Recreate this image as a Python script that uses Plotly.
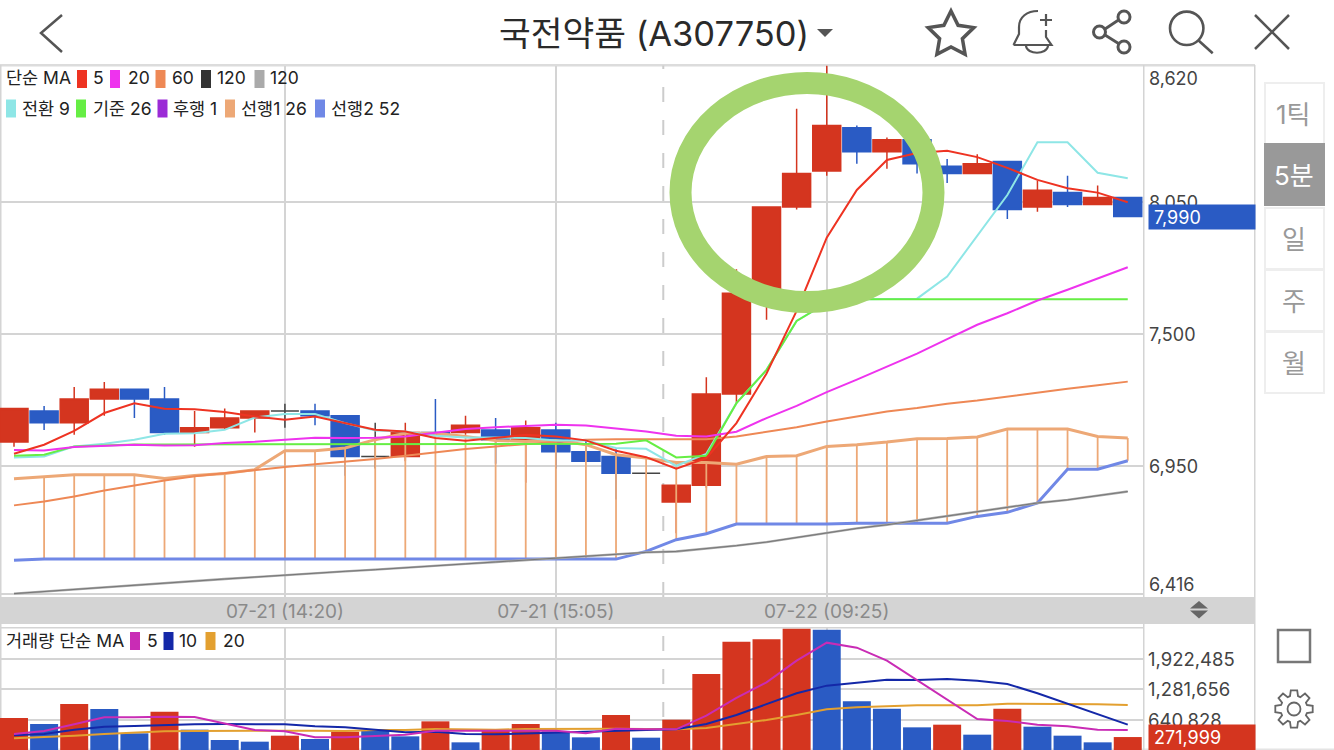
import math
import re
import plotly.graph_objects as go
from plotly.subplots import make_subplots

W, H = 1334, 750
FONT = "Inter, 'Noto Sans CJK KR', sans-serif"
RED = "#D4351F"
BLUE = "#2A5BC4"
DARK = "#444444"
ICON = "#555555"
GRID = "#D4D4D4"

# 5분봉 시세
idx = list(range(38))
open_ = [7050, 7180, 7130, 7230, 7270, 7230, 7090, 7110, 7150, 7180, 7180, 7160, 6990, 6990, 7090, 7090, 7100, 7060, 7100,
         7010, 6990, 6920, 6800, 6870, 7250, 7670, 8030, 8180, 8360, 8260, 8310, 8200, 8170, 8220, 8030, 8090, 8040, 8070]
close = [7190, 7130, 7230, 7270, 7230, 7090, 7110, 7150, 7180, 7180, 7160, 6990, 6990, 7090, 7080, 7120, 7060, 7110, 7010,
         6970, 6920, 6920, 6870, 7250, 7670, 8030, 8170, 8370, 8260, 8310, 8210, 8170, 8210, 8020, 8100, 8040, 8070, 7990]
high = [7190, 7200, 7280, 7300, 7270, 7280, 7180, 7190, 7180, 7210, 7210, 7160, 7130, 7130, 7230, 7160, 7150, 7140, 7130,
        7060, 7020, 6920, 6870, 7320, 7770, 8030, 8440, 8620, 8370, 8320, 8310, 8230, 8250, 8220, 8140, 8160, 8120, 8070]
low = [7030, 7100, 7080, 7160, 7150, 7080, 7030, 7100, 7090, 7110, 7120, 6910, 6940, 6970, 7080, 7080, 6960, 6880, 6940,
       6970, 6810, 6920, 6670, 6860, 7210, 7560, 8020, 8160, 8210, 8190, 8170, 8130, 8170, 7980, 8010, 8030, 8040, 7990]

# 이동평균
ma5 = [7001, 7039, 7097, 7171, 7212, 7189, 7187, 7175, 7157, 7143, 7157, 7129, 7101, 7094, 7067, 7055, 7067, 7080, 7073,
       7057, 7014, 6987, 6939, 6983, 7129, 7336, 7597, 7902, 8101, 8226, 8255, 8265, 8238, 8193, 8143, 8108, 8090, 8050]
ma20 = [7017, 7015, 7029, 7035, 7039, 7036, 7037, 7046, 7051, 7060, 7068, 7067, 7068, 7073, 7087, 7104, 7112, 7118, 7122,
        7119, 7105, 7094, 7076, 7073, 7093, 7150, 7201, 7258, 7310, 7365, 7419, 7479, 7539, 7587, 7640, 7685, 7733, 7779]
ma60 = [6786, 6802, 6823, 6848, 6869, 6890, 6907, 6921, 6935, 6946, 6958, 6967, 6979, 6993, 7008, 7021, 7032, 7042, 7050,
        7060, 7062, 7062, 7060, 7062, 7073, 7093, 7112, 7136, 7155, 7177, 7192, 7210, 7223, 7240, 7257, 7272, 7287, 7302]
ma120 = [6418, 6427, 6437, 6446, 6454, 6462, 6471, 6479, 6487, 6496, 6502, 6511, 6518, 6525, 6532, 6542, 6550, 6558, 6565,
         6573, 6580, 6590, 6594, 6605, 6618, 6633, 6652, 6672, 6690, 6705, 6723, 6743, 6759, 6777, 6796, 6809, 6827, 6844]

# 일목균형표
tenkan = [6986, 6990, 7032, 7043, 7060, 7085, 7087, 7101, 7152, 7167, 7167, 7129, 7098, 7094, 7076, 7069, 7069, 7067, 7057,
          7057, 7025, 7022, 6951, 7001, 7212, 7351, 7555, 7630, 7645, 7645, 7648, 7740, 7908, 8080, 8300, 8300, 8173, 8150]
kijun = [6993, 6997, 7032, 7037, 7040, 7040, 7040, 7040, 7040, 7040, 7040, 7040, 7040, 7040, 7043, 7043, 7043, 7043, 7043,
         7040, 7043, 7057, 6986, 6993, 7212, 7351, 7555, 7630, 7645, 7645, 7645, 7645, 7645, 7645, 7645, 7645, 7645, 7645]
senkou1 = [6897, 6907, 6914, 6914, 6914, 6898, 6911, 6919, 6935, 7014, 7014, 7025, 7060, 7087, 7087, 7073, 7057, 7052, 7057,
           7039, 6997, 6983, 6965, 6965, 6958, 6990, 6993, 7032, 7039, 7050, 7064, 7065, 7071, 7104, 7104, 7104, 7073, 7067]
senkou2 = [6557, 6562, 6562, 6562, 6562, 6562, 6562, 6562, 6562, 6562, 6562, 6562, 6562, 6562, 6562, 6562, 6562, 6562, 6562,
           6562, 6562, 6594, 6643, 6668, 6708, 6708, 6708, 6708, 6712, 6712, 6712, 6712, 6740, 6757, 6796, 6937, 6937, 6972]

# 거래량 (천주)
volume = [672, 546, 967, 861, 350, 805, 427, 210, 175, 301, 231, 385, 406, 287, 602, 161, 406, 546, 392,
          266, 735, 259, 637, 1597, 2276, 2325, 2549, 2528, 1023, 868, 476, 532, 322, 868, 490, 301, 161, 272]
volume_up = [1, 0, 1, 0, 0, 1, 0, 0, 0, 1, 0, 1, 0, 0, 1, 0, 1, 1, 0,
             0, 1, 0, 1, 1, 1, 1, 1, 0, 0, 0, 0, 1, 0, 1, 0, 0, 0, 1]
vol_ma5 = [336, 399, 539, 686, 686, 700, 693, 560, 420, 392, 266, 266, 301, 322, 406, 406, 399, 406, 406,
           350, 448, 434, 434, 721, 1093, 1422, 1877, 2255, 2150, 1877, 1471, 1051, 651, 609, 532, 497, 427, 420]
vol_ma10 = [308, 336, 427, 490, 504, 525, 539, 546, 539, 539, 497, 476, 427, 371, 385, 336, 329, 350, 371,
            378, 406, 420, 434, 546, 735, 967, 1191, 1352, 1422, 1478, 1471, 1492, 1457, 1387, 1191, 967, 756, 532]
vol_ma20 = [245, 266, 301, 336, 364, 392, 399, 406, 406, 406, 406, 399, 420, 420, 441, 427, 427, 441, 448,
            448, 448, 441, 434, 462, 546, 630, 735, 854, 896, 925, 939, 939, 939, 974, 974, 974, 960, 946]

# 축 라벨
price_ticks = [8620, 8050, 7500, 6950, 6416]
volume_ticks = [1922485, 1281656, 640828]
date_ticks = [9, 18, 27]
date_labels = ["07-21 (14:20)", "07-21 (15:05)", "07-22 (09:25)"]
session_break = 21.57
last_price = "7,990"
last_volume = "271,999"
title_text = "국전약품 (A307750)"
period_tabs = ["1틱", "5분", "일", "주", "월"]


def px(x):
    return x / W


def py(y):
    return 1 - y / H


def px_path(s):
    # "M x y L x y" 형태의 픽셀 좌표를 paper 좌표로 변환
    tokens = re.findall(r"[A-Za-z]|-?[\d.]+", s)
    out, is_x = [], True
    for t in tokens:
        if t.isalpha():
            out.append(t)
        else:
            out.append(str(px(float(t))) if is_x else str(py(float(t))))
            is_x = not is_x
    return " ".join(out)


fig = make_subplots(rows=2, cols=1, shared_xaxes=False)

# 구름대 세로선
stick_x, stick_y = [], []
for i, a, b in zip(idx[1:], senkou1[1:], senkou2[1:]):
    stick_x += [i, i, None]
    stick_y += [a, b, None]

sand = "#EDA876"
lines = [
    (stick_y, sand, 1.8),
    (senkou2, "#7088E6", 3),
    (senkou1, sand, 3),
    (ma120, "#AAAAAA", 2.4),
    (ma120, "#777777", 1),
    (ma60, "#EE8855", 2),
    (tenkan, "#8EE6E6", 2),
    (kijun, "#66EE44", 2),
    (ma20, "#EE33EE", 2),
    (ma5, "#EE3322", 2),
]
for ys, color, width in lines:
    xs = stick_x if ys is stick_y else idx
    fig.add_trace(go.Scatter(x=xs, y=ys, mode="lines", line=dict(color=color, width=width),
                             hoverinfo="skip", showlegend=False), row=1, col=1)

# 캔들 (보합은 검정)
doji = [o == c for o, c in zip(open_, close)]
keep = lambda vals, flag: [v if d == flag else None for v, d in zip(vals, doji)]
fig.add_trace(go.Candlestick(x=idx, open=keep(open_, False), high=keep(high, False), low=keep(low, False),
                             close=keep(close, False), whiskerwidth=0,
                             increasing=dict(line=dict(color=RED, width=1.5), fillcolor=RED),
                             decreasing=dict(line=dict(color=BLUE, width=1.5), fillcolor=BLUE),
                             showlegend=False, hoverinfo="skip"), row=1, col=1)
fig.add_trace(go.Candlestick(x=idx, open=keep(open_, True), high=keep(high, True), low=keep(low, True),
                             close=keep(close, True), whiskerwidth=0,
                             increasing=dict(line=dict(color="#444444", width=1.5), fillcolor="#444444"),
                             decreasing=dict(line=dict(color="#444444", width=1.5), fillcolor="#444444"),
                             showlegend=False, hoverinfo="skip"), row=1, col=1)

# 거래량
fig.add_trace(go.Bar(x=idx, y=[v * 1000 for v in volume], marker_color=[RED if u else BLUE for u in volume_up],
                     marker_line_width=0, showlegend=False, hoverinfo="skip"), row=2, col=1)
for ys, color in [(vol_ma20, "#E3A030"), (vol_ma10, "#1428A8"), (vol_ma5, "#C92CB5")]:
    fig.add_trace(go.Scatter(x=idx, y=[v * 1000 for v in ys], mode="lines", line=dict(color=color, width=2),
                             hoverinfo="skip", showlegend=False), row=2, col=1)

x_range = [-0.465, 37.54]
x_domain = [0, 1144 / W]
fig.update_layout(
    width=W, height=H, margin=dict(l=0, r=0, t=0, b=0),
    paper_bgcolor="white", plot_bgcolor="white", font=dict(family=FONT, color=DARK),
    showlegend=False, bargap=0.07, boxgap=0.07, boxgroupgap=0, boxmode="overlay", dragmode=False,
    xaxis=dict(domain=x_domain, range=x_range, tickvals=date_ticks, ticktext=date_labels, showgrid=True,
               gridcolor=GRID, gridwidth=1.5, zeroline=False, ticks="", rangeslider=dict(visible=False),
               ticklabelstandoff=1, tickfont=dict(size=19, color="#8A8A8A", family=FONT)),
    yaxis=dict(domain=[py(597), py(65.5)], range=[6404, 8620], tickvals=price_ticks, showticklabels=False,
               gridcolor=GRID, gridwidth=1.5, zeroline=False, side="right"),
    xaxis2=dict(domain=x_domain, range=x_range, tickvals=date_ticks, showticklabels=False, showgrid=True,
                gridcolor=GRID, gridwidth=1.5, zeroline=False, ticks=""),
    yaxis2=dict(domain=[0, py(628)], range=[0, 2563314], tickvals=volume_ticks, showticklabels=False,
                gridcolor=GRID, gridwidth=1.5, zeroline=False, side="right"),
)

shapes = []
annots = []


def rect(x0, y0, x1, y1, fill=None, line=None, width=0, layer="above"):
    shapes.append(dict(type="rect", xref="paper", yref="paper", x0=px(x0), x1=px(x1), y0=py(y0), y1=py(y1),
                       fillcolor=fill, line=dict(color=line, width=width), layer=layer))


def stroke(d, color=ICON, width=2.5, fill=None, layer="above"):
    shapes.append(dict(type="path", xref="paper", yref="paper", path=px_path(d), fillcolor=fill,
                       line=dict(color=color, width=width), layer=layer))


def circle(cx, cy, rx, ry=None, color=ICON, width=2.5):
    ry = rx if ry is None else ry
    shapes.append(dict(type="circle", xref="paper", yref="paper", x0=px(cx - rx), x1=px(cx + rx),
                       y0=py(cy - ry), y1=py(cy + ry), line=dict(color=color, width=width), layer="above"))


def text(x, y, s, size=17.5, color="#222222", anchor="left"):
    annots.append(dict(xref="paper", yref="paper", x=px(x), y=py(y), text=s, showarrow=False, xanchor=anchor,
                       yanchor="middle", font=dict(size=size, color=color, family=FONT)))


# 프레임과 구분선
rect(0, 597, 1255, 624, fill="#D4D4D4", layer="below")
rect(0, 64, 1255, 66.5, fill="#DCDCDC", layer="below")
rect(0, 748.5, 1334, 750, fill="#E4E4E4", layer="below")
for x0 in (0, 1143, 1254):
    rect(x0, 65, x0 + 1.5, 750, fill="#D4D4D4", layer="below")
rect(0, 627, 1144, 628.5, fill="#D4D4D4", layer="below")
for y0, y1 in [(65.5, 597), (628, 750)]:
    shapes.append(dict(type="line", xref="x", yref="paper", x0=session_break, x1=session_break, y0=py(y1), y1=py(y0),
                       line=dict(color="#CCCCCC", width=2, dash="15px,18px"), layer="below"))

# 눈금 라벨
for v in price_ticks:
    shift = {8620: -12.5, 6416: 10}.get(v, 0)
    annots.append(dict(xref="paper", yref="y", x=px(1146.5), y=v, yshift=shift, text=f"{v:,}", showarrow=False,
                       xanchor="left", yanchor="middle", font=dict(size=18, color=DARK, family=FONT)))
for v in volume_ticks:
    annots.append(dict(xref="paper", yref="y2", x=px(1146), y=v, text=f"{v:,}", showarrow=False, xanchor="left",
                       yanchor="middle", font=dict(size=18.5, color=DARK, family=FONT)))
annots.append(dict(xref="paper", yref="paper", x=px(1148), y=py(217), text="\u00a0" + last_price, showarrow=False,
                   xanchor="left", yanchor="middle", align="left", width=106, height=24, borderpad=0, bgcolor=BLUE,
                   font=dict(size=18, color="white", family=FONT)))
annots.append(dict(xref="paper", yref="paper", x=px(1148), y=py(737.5), text="\u00a0" + last_volume, showarrow=False,
                   xanchor="left", yanchor="middle", align="left", width=106, height=25, borderpad=0, bgcolor=RED,
                   font=dict(size=18, color="white", family=FONT)))

# 범례
legend_rows = [
    (78, 70, [(77, "#EE3322", 91, "5"), (110, "#EE33EE", 125.5, "20"), (155.5, "#EE8855", 169.5, "60"),
              (201, "#333333", 214.5, "120"), (254.5, "#AAAAAA", 268, "120")]),
    (108.5, 99.5, [(6, "#8EE6E6", 20, "전환 9"), (76, "#66EE44", 90.5, "기준 26"), (157.5, "#9B2BD6", 171, "후행 1"),
                   (225, sand, 239, "선행1 26"), (315, "#7088E6", 329, "선행2 52")]),
    (640.5, 632, [(130, "#C92CB5", 144.5, "5"), (163.5, "#1428A8", 177, "10"), (205.5, "#E3A030", 220.5, "20")]),
]
text(4, 78, "단순 MA")
text(4, 640.5, "거래량 단순 MA")
for cy, top, items in legend_rows:
    for sx, color, tx, label in items:
        rect(sx, top, sx + 10, top + 18, fill=color)
        text(tx, cy, label)

# 상단 헤더
text(654, 33, title_text, size=34.5, color="#2A2A2A", anchor="center")
stroke("M 62 15 L 41 33 L 62 52", width=2.5)
stroke("M 817 29 L 833 29 L 825 37 Z", width=0, fill=ICON)
star = []
for k in range(10):
    r = 24 if k % 2 == 0 else 12
    a = -math.pi / 2 + k * math.pi / 5
    star.append(f"{951 + r * math.cos(a):.1f} {35 + r * math.sin(a):.1f}")
stroke("M " + " L ".join(star) + " Z", width=3.5)
stroke("M 1013.5 45 L 1019 34 L 1019 27 C 1019 17 1027 11 1038 11 M 1046 30 L 1046 37 L 1051.5 45 L 1013.5 45 "
       "M 1026 46 C 1027 55 1047 55 1048 46 M 1040 20 L 1052 20 M 1046 14 L 1046 26", width=2.2)
for cx, cy in [(1099.5, 32), (1124, 17), (1124, 47)]:
    circle(cx, cy, 6, width=3)
stroke("M 1105 29 L 1118.5 20 M 1105 35 L 1118.5 43.5", width=2.8)
circle(1186.7, 28.3, 16.7, width=2.6)
stroke("M 1198 40 L 1212.7 53.3", width=2.6)
stroke("M 1255 15 L 1289 49 M 1289 15 L 1255 49", width=2.5)

# 우측 주기 탭
tab_tops = [83, 144, 208, 270, 332]
for label, top in zip(period_tabs, tab_tops):
    active = label == "5분"
    rect(1265, top, 1324, top + 61, fill="#999999" if active else "white", line="#999999" if active else "#EEEEEE",
         width=2)
    text(1293.5, top + 31, label, size=26, color="white" if active else "#999999", anchor="center")

# 구분바 화살표
stroke("M 1190 608.5 L 1208 608.5 L 1199 601 Z", color="#666666", width=0, fill="#666666")
stroke("M 1190 610.5 L 1208 610.5 L 1199 618.5 Z", color="#666666", width=0, fill="#666666")

# 체크박스와 설정 아이콘
rect(1278, 630, 1310, 662, line="#777777", width=2.5)
gear = []
for k in range(8):
    a = k * math.pi / 4
    for off, r in [(-0.30, 13.5), (-0.17, 19), (0.17, 19), (0.30, 13.5)]:
        gear.append(f"{1294 + r * math.cos(a + off):.1f} {709 + r * math.sin(a + off):.1f}")
stroke("M " + " L ".join(gear) + " Z", color="#666666", width=1.8)
circle(1294, 709, 6.5, color="#666666", width=1.8)

# 강조 원
circle(807, 192.5, 126.5, 109.5, color="#A5D46F", width=22)

fig.update_layout(shapes=shapes, annotations=annots)
fig.write_html("out.html", config={"displayModeBar": False},
               post_script="document.body.style.margin='0';document.body.style.overflow='hidden';")
